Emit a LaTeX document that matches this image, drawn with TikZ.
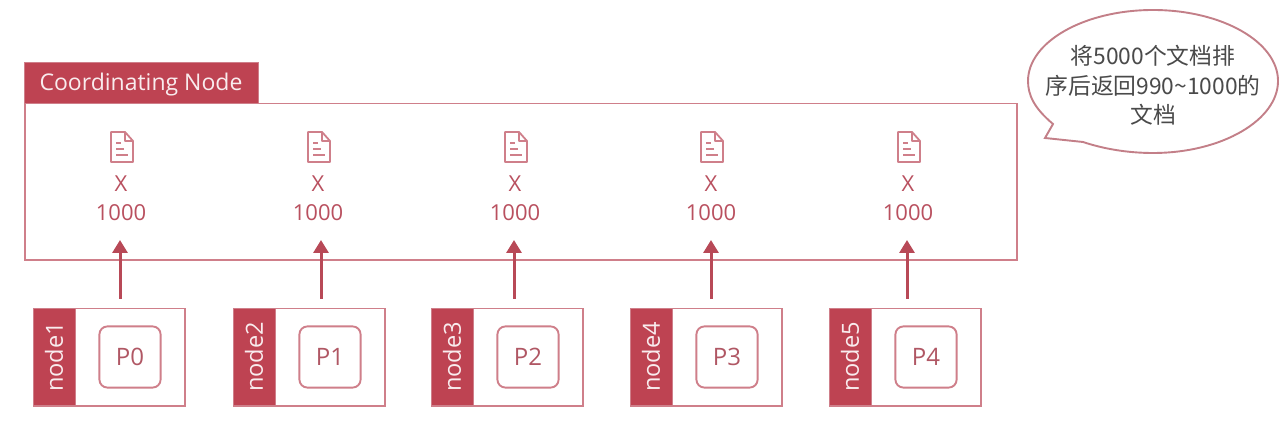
\documentclass[tikz,border=0pt]{standalone}
\usepackage{fontspec}
\usetikzlibrary{arrows.meta,calc}
\setmainfont{Open Sans}
\newfontfamily\cjk{Noto Sans CJK SC}
\definecolor{brand}{HTML}{BE4352}
\definecolor{edge}{HTML}{CF7F8A}
\definecolor{ink}{HTML}{B9505F}
\definecolor{bubbleink}{HTML}{4A4A4A}
\tikzset{
  x=0.5pt,y=-0.5pt,
  panel/.style={draw=edge,line width=0.95pt,fill=white,inner sep=0pt},
  tab/.style={fill=brand,draw=edge,line width=0.4pt,inner sep=0pt},
  tabtext/.style={text=white!90!brand,font=\fontsize{11.5}{13}\selectfont},
  figtext/.style={text=ink,font=\fontsize{11}{13}\selectfont,inner sep=0pt},
  ptext/.style={text=ink!85!gray,font=\fontsize{12}{13}\selectfont,inner sep=0pt},
  sidetext/.style={text=white!90!brand,font=\fontsize{11.8}{13}\selectfont,rotate=90,inner sep=0pt},
  partbox/.style={draw=edge,line width=0.95pt,rounded corners=4pt,inner sep=0pt,minimum width=30.6pt,minimum height=30.6pt},
  upflow/.style={draw=brand!90!gray,line width=1.5pt,-{Triangle[length=6.5pt,width=7.5pt]},shorten <=4.5pt},
  doc/.style={draw=edge,line width=0.9pt,line join=round},
  docline/.style={draw=edge,line width=0.7pt},
}
\begin{document}
\begin{tikzpicture}
\useasboundingbox (0,0) rectangle (1288,421);
% main panel
\node[panel,anchor=north west,minimum width=496.2pt,minimum height=78.2pt] (coord) at (23.6,102.6) {};
\node[tab,anchor=north west,minimum width=117pt,minimum height=20.5pt] (head) at (23.6,61.6) {};
\node[tabtext] (headtext) at (141,85) {Coordinating Node};
% columns
\foreach \i/\dx/\ax/\nx/\name/\pp in {0/121/120/33/node1/P0,1/318/321/233/node2/P1,2/515/514/431/node3/P2,3/711/711/630/node4/P3,4/908/907/829/node5/P4}{
  % document icon
  \begin{scope}[shift={(\dx+1,147)}]
    \draw[doc] (-11,-15) -- (3,-15) -- (11,-6) -- (11,15) -- (-11,15) -- cycle;
    \draw[doc] (3,-15) -- (3,-6) -- (11,-6);
    \draw[docline] (-6,-4) -- (-1,-4) (-6,2) -- (2,2) (-6,8) -- (6,8);
  \end{scope}
  \node[figtext] (x\i) at (\dx,184) {X};
  \node[figtext] (c\i) at (\dx,213) {1000};
  % shard node
  \node[panel,anchor=north west,minimum width=75.8pt,minimum height=48.8pt] (n\i) at (\nx-0.4,307.6) {};
  \node[tab,anchor=north west,minimum width=21pt,minimum height=48.8pt] (bar\i) at (\nx-0.4,307.6) {};
  \node[sidetext] at (bar\i.center) {\name};
  \node[partbox] (p\i) at ($(\nx,357)+(97,0)$) {};
  \node[ptext] at (p\i.center) {\pp};
  \coordinate (tip\i) at (\ax,240);
  \draw[upflow] (n\i.north -| tip\i) -- (tip\i);
}
% speech bubble
\draw[edge!85!gray,line width=0.95pt,fill=white]
  (1053,124) .. controls (1034,108) and (1028,95) .. (1028,81)
  .. controls (1028,42) and (1084,10) .. (1153,10)
  .. controls (1222,10) and (1278,42) .. (1278,81)
  .. controls (1278,120) and (1222,153) .. (1153,153)
  .. controls (1128,153) and (1104,149) .. (1083,142)
  -- (1045,138) -- cycle;
\node[text=bubbleink,font=\fontsize{11.4}{14.8}\selectfont\cjk,align=center,inner sep=0pt] (say) at (1153,85.5) {将5000个文档排\\序后返回990\textasciitilde1000的\\文档};
\end{tikzpicture}
\end{document}
